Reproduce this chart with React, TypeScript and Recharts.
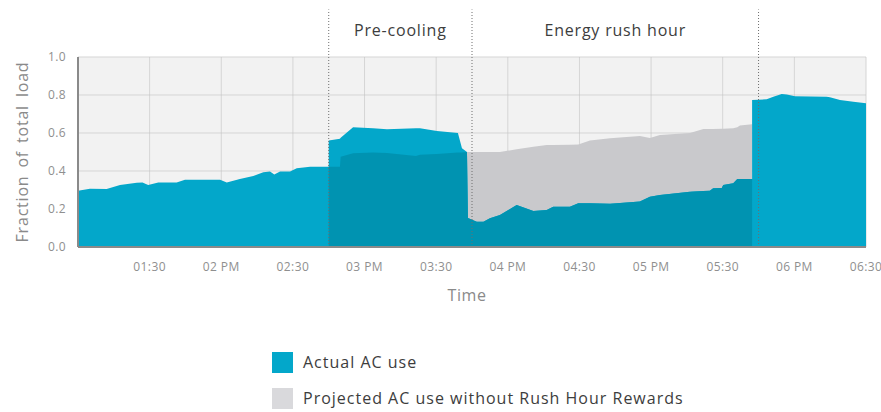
import {
  Area,
  CartesianGrid,
  ComposedChart,
  ReferenceArea,
  ReferenceLine,
  XAxis,
  YAxis,
} from "recharts";

// minutes after 01:00 PM
const minutes = [
  0, 5, 12, 17.6, 24.6, 27, 29.4, 33.6, 41.3, 44.8, 59.5, 62.3, 67.8, 73.4,
  77.6, 80.4, 82.2, 84.6, 88.8, 91.6, 97.2, 105,
  105, 109.7, 110, 115.2, 123.5, 129.4, 141.5, 143.2, 150.3, 159.1, 160.8,
  162.9, 163.3, 167, 169.8, 172.5, 176.7, 183.7, 190.7, 196.3, 199, 206,
  209.5, 214.4, 222.8, 235.3, 239.5, 243.7, 256.3, 261.9, 264.6, 266, 269.6,
  270.2, 274.4, 276.1, 277.2, 282.3,
  282.3, 288.4, 291.2, 294.7, 296.8, 300.3, 313.5, 314.9, 319.1, 324.7, 330,
];

const actualLoad = [
  0.296, 0.307, 0.305, 0.326, 0.338, 0.34, 0.326, 0.34, 0.34, 0.354, 0.354,
  0.34, 0.358, 0.374, 0.393, 0.397, 0.382, 0.397, 0.398, 0.414, 0.423, 0.423,
  0.56, 0.57, 0.575, 0.63, 0.625, 0.62, 0.625, 0.625, 0.61, 0.6, 0.52,
  0.5, 0.153, 0.133, 0.133, 0.151, 0.168, 0.221, 0.189, 0.195, 0.212, 0.212,
  0.23, 0.23, 0.228, 0.24, 0.265, 0.274, 0.291, 0.295, 0.296, 0.309, 0.31,
  0.326, 0.335, 0.358, 0.358, 0.358,
  0.774, 0.777, 0.791, 0.805, 0.803, 0.793, 0.791, 0.788, 0.774, 0.765, 0.756,
];

const projectedLoad: (number | null)[] = [
  null, null, null, null, null, null, null, null, null, null, null, null, null,
  null, null, null, null, null, null, null, null, null,
  0.423, 0.423, 0.475, 0.493, 0.497, 0.495, 0.479, 0.485, 0.49, 0.497, 0.498,
  0.5, 0.5, 0.5, 0.5, 0.5, 0.5, 0.515, 0.527, 0.537, 0.537, 0.538,
  0.54, 0.56, 0.572, 0.584, 0.574, 0.589, 0.6, 0.621, 0.621, 0.621, 0.622,
  0.622, 0.625, 0.63, 0.64, 0.646,
  null, null, null, null, null, null, null, null, null, null, null,
];

const tickMinutes = [30, 60, 90, 120, 150, 180, 210, 240, 270, 300, 330];
const tickLabels = [
  "01:30", "02 PM", "02:30", "03 PM", "03:30", "04 PM", "04:30", "05 PM",
  "05:30", "06 PM", "06:30",
];
const yTicks = [0, 0.2, 0.4, 0.6, 0.8, 1.0];

const phaseBounds = [105, 165, 285];
const phases = [
  { from: 105, to: 165, name: "Pre-cooling" },
  { from: 165, to: 285, name: "Energy rush hour" },
];

const TEAL = "#03a7ca";
const DARK_TEAL = "#0093b1";
const GRAY = "#c9c9cc";

const data = minutes.map((t, i) => {
  const p = projectedLoad[i];
  return {
    t,
    actual: actualLoad[i],
    projected: p,
    overlap: p == null ? null : Math.min(p, actualLoad[i]),
  };
});

export default function App() {
  const tickStyle = { fill: "#8f8f8f", fontSize: 12, letterSpacing: 0.4 };
  return (
    <div
      style={{
        position: "absolute",
        left: 0,
        top: 0,
        width: 881,
        height: 412,
        background: "#fff",
        fontFamily: "'Open Sans', sans-serif",
      }}
    >
      <ComposedChart
        width={881}
        height={412}
        data={data}
        margin={{ top: 57, right: 15, left: 0, bottom: 105 }}
      >
        <CartesianGrid stroke="#e1e1e1" fill="#f2f2f2" />
        <XAxis
          dataKey="t"
          type="number"
          domain={[0, 330]}
          ticks={tickMinutes}
          tickFormatter={(v: number) => tickLabels[tickMinutes.indexOf(v)]}
          tickLine={false}
          tickSize={0}
          tickMargin={15}
          height={60}
          axisLine={{ stroke: "#8a8a8a", strokeWidth: 2 }}
          tick={tickStyle}
          interval={0}
          label={{
            value: "Time",
            position: "insideBottom",
            offset: 6,
            dx: -5,
            fill: "#8a8a8a",
            fontSize: 16,
            letterSpacing: 0.6,
          }}
        />
        <YAxis
          type="number"
          domain={[0, 1]}
          ticks={yTicks}
          tickFormatter={(v: number) => v.toFixed(1)}
          tickLine={false}
          tickSize={0}
          tickMargin={12}
          width={78}
          axisLine={{ stroke: "#8a8a8a", strokeWidth: 2 }}
          tick={tickStyle}
          interval={0}
          label={{
            value: "Fraction of total load",
            angle: -90,
            position: "center",
            dx: -17,
            fill: "#8a8a8a",
            fontSize: 16,
            letterSpacing: 0.8,
            wordSpacing: 3,
          }}
        />
        <Area
          dataKey="projected"
          type="linear"
          stroke="none"
          fill={GRAY}
          fillOpacity={1}
          isAnimationActive={false}
        />
        <Area
          dataKey="actual"
          type="linear"
          stroke="none"
          fill={TEAL}
          fillOpacity={1}
          isAnimationActive={false}
        />
        <Area
          dataKey="overlap"
          type="linear"
          stroke="none"
          fill={DARK_TEAL}
          fillOpacity={1}
          isAnimationActive={false}
        />
        <CartesianGrid stroke="rgba(0,0,0,0.05)" fill="none" />
        {phaseBounds.map((x) => (
          <ReferenceLine
            key={x}
            segment={[
              { x, y: 0 },
              { x, y: 1.25 },
            ]}
            ifOverflow="visible"
            stroke="#6f6f6f"
            strokeDasharray="1 2"
          />
        ))}
        {phases.map((ph) => (
          <ReferenceArea
            key={ph.name}
            x1={ph.from}
            x2={ph.to}
            y1={1.0}
            y2={1.28}
            ifOverflow="visible"
            fill="none"
            stroke="none"
            label={{
              value: ph.name,
              position: "center",
              fill: "#3d3d3d",
              fontSize: 16,
              letterSpacing: 0.8,
            }}
          />
        ))}
      </ComposedChart>
      <div
        style={{
          position: "absolute",
          left: 272,
          top: 351,
          fontSize: 16,
          letterSpacing: 1,
          color: "#3d3d3d",
        }}
      >
        <div style={{ display: "flex", alignItems: "center", height: 22 }}>
          <span
            style={{ width: 21, height: 21, background: TEAL, marginRight: 10 }}
          />
          Actual AC use
        </div>
        <div
          style={{
            display: "flex",
            alignItems: "center",
            height: 22,
            marginTop: 14,
          }}
        >
          <span
            style={{
              width: 21,
              height: 21,
              background: "#d9d9dc",
              marginRight: 10,
            }}
          />
          Projected AC use without Rush Hour Rewards
        </div>
      </div>
    </div>
  );
}
